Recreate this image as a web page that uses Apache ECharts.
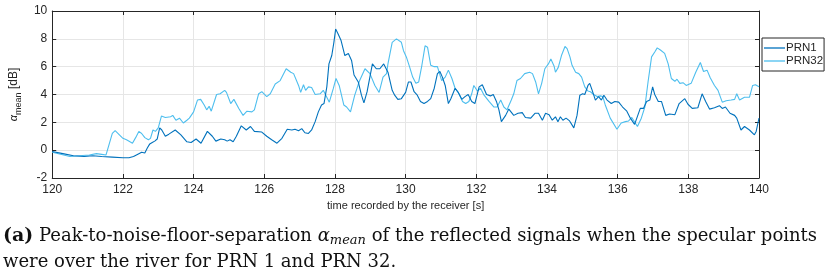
<!DOCTYPE html>
<html>
<head>
<meta charset="utf-8">
<title>PRN1 / PRN32 alpha mean</title>
<script src="https://cdn.jsdelivr.net/npm/echarts@6/dist/echarts.min.js"></script>
<style>
  html, body { margin: 0; padding: 0; background: #fff; }
  #chart { width: 827px; height: 280px; }
</style>
</head>
<body>
<div id="chart"></div>
<script>
// 数据：时间 [s] 与 alpha_mean [dB]
var prn1Time = [120.0,120.3,120.6,120.9,121.15,121.4,121.7,122.0,122.17,122.3,122.45,122.53,122.62,122.69,122.76,122.83,122.9,122.97,123.04,123.1,123.2,123.3,123.48,123.64,123.81,123.93,124.07,124.21,124.39,124.53,124.63,124.77,124.88,124.95,125.03,125.12,125.21,125.35,125.49,125.61,125.72,125.93,126.07,126.21,126.36,126.5,126.65,126.78,126.87,126.97,127.06,127.15,127.25,127.34,127.44,127.53,127.62,127.69,127.77,127.83,127.91,127.97,128.02,128.09,128.17,128.28,128.38,128.47,128.54,128.66,128.75,128.82,128.91,129.06,129.17,129.27,129.38,129.5,129.62,129.69,129.78,129.88,130.0,130.08,130.15,130.24,130.33,130.42,130.52,130.62,130.71,130.81,130.9,130.97,131.04,131.12,131.21,131.28,131.4,131.49,131.59,131.68,131.77,131.87,131.96,132.08,132.17,132.29,132.4,132.48,132.57,132.64,132.71,132.83,132.92,133.06,133.18,133.3,133.39,133.54,133.66,133.76,133.87,133.96,134.06,134.15,134.24,134.31,134.38,134.45,134.54,134.64,134.76,134.85,134.93,135.01,135.07,135.16,135.21,135.28,135.37,135.46,135.54,135.61,135.7,135.82,135.92,136.03,136.14,136.26,136.36,136.48,136.57,136.64,136.73,136.82,136.91,136.99,137.05,137.15,137.24,137.36,137.47,137.62,137.74,137.9,137.99,138.11,138.27,138.39,138.49,138.6,138.74,138.88,138.96,139.05,139.18,139.31,139.37,139.49,139.59,139.73,139.87,139.92,140.0];
var prn1Val = [-0.1,-0.25,-0.4,-0.45,-0.4,-0.45,-0.5,-0.55,-0.55,-0.45,-0.25,-0.15,-0.2,0.15,0.45,0.55,0.65,0.8,1.6,1.45,1.0,1.15,1.45,1.1,0.6,0.55,0.8,0.5,1.35,1.0,0.65,0.8,0.75,0.65,0.75,0.6,1.0,1.75,1.45,1.7,1.35,1.3,1.0,0.75,0.5,0.85,1.5,1.45,1.5,1.4,1.55,1.25,1.2,1.45,2.05,2.75,3.25,3.35,4.55,6.2,6.8,7.75,8.7,8.35,7.9,6.8,6.95,6.45,5.4,4.9,3.95,3.4,4.2,6.2,5.85,5.85,6.2,5.6,4.3,3.95,3.65,3.7,4.15,4.9,4.9,4.2,3.95,3.5,3.35,3.5,3.7,4.45,5.5,5.65,5.25,4.65,3.35,3.7,4.45,4.15,3.65,3.85,4.0,3.5,3.35,4.55,4.7,4.0,3.9,4.0,3.5,2.9,2.05,2.5,2.95,2.5,2.65,2.7,2.35,2.3,2.65,2.65,2.15,2.65,2.55,2.15,2.4,2.05,2.4,2.15,2.3,2.1,1.6,2.5,3.95,4.05,4.0,4.65,4.8,4.3,3.6,3.85,3.6,3.95,3.6,3.35,3.5,3.45,3.1,2.8,2.3,1.85,2.5,3.0,3.0,3.5,3.6,4.55,4.0,3.5,3.5,2.5,2.6,2.55,3.35,3.7,3.3,3.0,3.05,4.05,3.5,2.95,3.05,3.2,3.0,3.1,2.65,2.5,2.3,1.45,1.7,1.45,1.1,1.35,2.3];

var prn32Time = [120.0,120.5,120.77,121.05,121.25,121.4,121.52,121.57,121.7,121.78,121.9,122.0,122.1,122.2,122.27,122.36,122.45,122.53,122.62,122.72,122.78,122.85,122.92,123.0,123.09,123.2,123.35,123.41,123.5,123.6,123.71,123.81,123.88,124.0,124.11,124.2,124.3,124.37,124.44,124.5,124.65,124.75,124.88,124.93,125.05,125.09,125.14,125.19,125.28,125.4,125.51,125.65,125.72,125.84,125.93,126.07,126.17,126.31,126.45,126.62,126.75,126.83,126.97,127.03,127.11,127.17,127.25,127.34,127.44,127.58,127.67,127.84,127.95,128.03,128.12,128.25,128.33,128.44,128.56,128.69,128.85,128.99,129.13,129.25,129.36,129.46,129.5,129.62,129.74,129.88,129.94,130.02,130.11,130.2,130.29,130.37,130.46,130.55,130.62,130.71,130.81,130.9,131.02,131.12,131.21,131.31,131.4,131.51,131.61,131.7,131.79,131.87,131.93,132.03,132.12,132.22,132.36,132.5,132.59,132.69,132.78,132.87,132.99,133.06,133.15,133.25,133.37,133.51,133.59,133.68,133.76,133.85,133.94,134.04,134.11,134.2,134.24,134.32,134.41,134.51,134.57,134.65,134.71,134.81,134.9,134.98,135.07,135.16,135.23,135.32,135.42,135.51,135.58,135.65,135.79,135.98,136.1,136.22,136.31,136.4,136.56,136.67,136.77,136.86,136.96,137.05,137.12,137.21,137.33,137.43,137.52,137.62,137.68,137.76,137.85,137.94,138.08,138.21,138.34,138.43,138.53,138.62,138.74,138.84,138.96,139.07,139.21,139.31,139.37,139.45,139.59,139.73,139.82,139.9,140.0];
var prn32Val = [-0.15,-0.45,-0.4,-0.35,-0.25,-0.3,-0.35,-0.3,1.2,1.4,1.1,0.85,0.75,0.6,0.5,0.9,1.35,1.2,0.9,0.75,0.85,1.45,1.35,1.6,2.45,2.35,2.4,2.5,2.15,2.3,1.95,2.15,2.3,2.75,3.6,3.65,3.25,2.9,3.15,2.8,4.0,4.05,4.3,4.15,3.35,3.3,3.65,3.7,3.0,2.5,2.8,2.75,2.9,4.05,4.2,3.85,4.05,4.75,5.0,5.85,5.6,5.5,4.65,4.15,4.7,4.3,4.55,4.5,4.0,4.05,4.3,3.45,4.4,5.15,4.65,3.25,3.1,2.75,3.95,4.95,5.85,5.5,4.65,4.15,5.25,5.5,6.2,7.75,8.0,7.75,7.15,6.7,6.0,5.25,4.8,4.9,6.1,7.5,7.4,6.1,6.0,6.0,5.0,5.25,5.75,5.15,4.45,4.05,3.5,3.35,3.5,4.05,4.65,4.25,4.45,3.95,3.5,3.1,3.1,3.6,3.1,2.9,3.6,4.05,5.0,5.15,5.5,5.6,5.5,4.9,4.05,4.8,5.85,6.2,6.55,6.05,5.6,5.95,6.8,7.45,7.3,6.7,6.1,5.6,5.5,5.25,4.55,4.25,4.2,4.0,3.85,3.9,3.85,3.25,2.3,1.5,1.95,2.05,2.1,2.35,1.7,2.3,3.1,4.9,6.7,7.05,7.35,7.2,6.95,6.2,5.15,4.95,5.1,4.8,4.85,4.65,4.8,5.6,6.3,5.65,5.75,5.2,4.65,4.3,3.45,3.55,3.6,3.65,4.05,3.6,3.8,3.8,4.65,4.7,4.55];

var seriesNames = ['PRN1', 'PRN32'];
var xTicks = {min: 120, max: 140, step: 2};
var yTicks = {min: -2, max: 10, step: 2};

function zip(t, v) {
	var out = [];
	for (var i = 0; i < t.length; i++) {
		out.push([t[i], v[i]]);
	}
	return out;
}

var axisColor = '#262626';
var gridColor = '#e6e6e6';
var sansFont = '"Liberation Sans", Arial, sans-serif';
var serifFont = '"DejaVu Serif", serif';

// 主坐标轴（带刻度标签）与对侧坐标轴（只画框线和内侧刻度）
function makeXAxis(main) {
	return {
		type: 'value',
		position: main ? 'bottom' : 'top',
		min: xTicks.min, max: xTicks.max, interval: xTicks.step,
		name: main ? 'time recorded by the receiver [s]' : '',
		nameLocation: 'middle',
		nameGap: 22,
		nameTextStyle: {color: axisColor, fontSize: 11, fontFamily: sansFont},
		axisLine: {show: true, onZero: false, lineStyle: {color: axisColor, width: 1}},
		axisTick: {show: true, inside: true, length: 4, lineStyle: {color: axisColor}},
		axisLabel: {show: main, color: axisColor, fontSize: 12, fontFamily: sansFont, margin: 6},
		splitLine: {show: main, lineStyle: {color: gridColor, width: 1}}
	};
}

function makeYAxis(main) {
	return {
		type: 'value',
		position: main ? 'left' : 'right',
		min: yTicks.min, max: yTicks.max, interval: yTicks.step,
		name: main ? '{a|α}{m|mean} {a2|[dB]}' : '',
		nameLocation: 'middle',
		nameRotate: 90,
		nameGap: 21,
		nameTextStyle: {
			color: axisColor, fontFamily: sansFont,
			rich: {
				a: {fontSize: 11, fontStyle: 'italic', color: axisColor, fontFamily: sansFont, lineHeight: 18, verticalAlign: 'middle'},
				m: {fontSize: 9, color: axisColor, fontFamily: sansFont, verticalAlign: 'bottom', lineHeight: 18},
				a2: {fontSize: 12, color: axisColor, fontFamily: sansFont, lineHeight: 18, verticalAlign: 'middle'}
			}
		},
		axisLine: {show: true, lineStyle: {color: axisColor, width: 1}},
		axisTick: {show: true, inside: true, length: 4, lineStyle: {color: axisColor}},
		axisLabel: {show: main, color: axisColor, fontSize: 12, fontFamily: sansFont, margin: 5},
		splitLine: {show: main, lineStyle: {color: gridColor, width: 1}}
	};
}

var myChart = echarts.init(document.getElementById('chart'), null, {renderer: 'canvas'});

var option = {
	animation: false,
	backgroundColor: '#fff',
	grid: {left: 49, right: 68, top: 11, bottom: 102, containLabel: false},
	legend: {
		orient: 'vertical',
		left: 762, top: 38,
		data: seriesNames,
		// 图例只画一条短线
		icon: 'rect',
		itemWidth: 21, itemHeight: 1.3, itemGap: 1,
		padding: [4, 1, 4, 2],
		borderColor: axisColor, borderWidth: 1,
		backgroundColor: '#fff',
		textStyle: {color: axisColor, fontSize: 11.5, fontFamily: sansFont, padding: [0, 0, 0, -4], lineHeight: 12}
	},
	xAxis: [makeXAxis(true), makeXAxis(false)],
	yAxis: [makeYAxis(true), makeYAxis(false)],
	series: [
		{
			name: seriesNames[0], type: 'line', xAxisIndex: 0, yAxisIndex: 0,
			data: zip(prn1Time, prn1Val),
			symbol: 'none', showSymbol: false,
			lineStyle: {color: '#0072BD', width: 1.1},
			itemStyle: {color: '#0072BD'},
			z: 3
		},
		{
			name: seriesNames[1], type: 'line', xAxisIndex: 0, yAxisIndex: 0,
			data: zip(prn32Time, prn32Val),
			symbol: 'none', showSymbol: false,
			lineStyle: {color: '#4DBEEE', width: 1.1},
			itemStyle: {color: '#4DBEEE'},
			z: 2
		}
	],
	// 图下方的说明文字
	graphic: [
		{
			type: 'text', left: 3, top: 227,
			style: {
				text: '{b|(a)} Peak-to-noise-floor-separation {i|α}{s|mean} of the reflected signals when the specular points',
				fill: '#111', fontSize: 18, fontFamily: serifFont,
				rich: {
					b: {fontWeight: 'bold', fontSize: 19, fontFamily: serifFont, fill: '#111', verticalAlign: 'middle', lineHeight: 22},
					i: {fontStyle: 'italic', fontSize: 18, fontFamily: serifFont, fill: '#111', verticalAlign: 'middle', lineHeight: 22},
					s: {fontStyle: 'italic', fontSize: 13, fontFamily: serifFont, fill: '#111', verticalAlign: 'bottom', lineHeight: 22}
				}
			}
		},
		{
			type: 'text', left: 3, top: 251,
			style: {
				text: 'were over the river for PRN 1 and PRN 32.',
				fill: '#111', fontSize: 18, fontFamily: serifFont, lineHeight: 22
			}
		}
	]
};

myChart.setOption(option);
</script>
</body>
</html>
